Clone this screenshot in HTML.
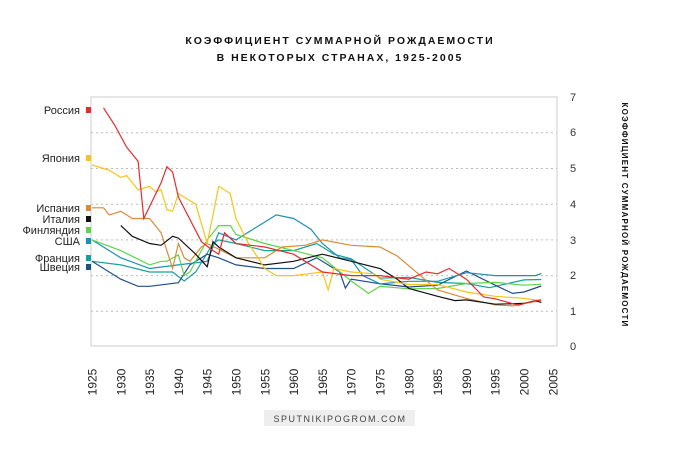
<!DOCTYPE html>
<html><head><meta charset="utf-8"><style>
body{margin:0;background:#fff;}
svg{display:block;font-family:"Liberation Sans",sans-serif;}
</style></head><body>
<svg id="s" width="680" height="450" viewBox="0 0 680 450">
<text x="340" y="44" text-anchor="middle" font-size="10.5" font-weight="bold" letter-spacing="2" fill="#111">КОЭФФИЦИЕНТ СУММАРНОЙ РОЖДАЕМОСТИ</text>
<text x="340" y="61" text-anchor="middle" font-size="10.5" font-weight="bold" letter-spacing="2" fill="#111">В НЕКОТОРЫХ СТРАНАХ, 1925-2005</text>
<g stroke="#bbb" stroke-dasharray="2,3" stroke-width="1">
<line x1="91" x2="557" y1="311.3" y2="311.3"/><line x1="91" x2="557" y1="275.6" y2="275.6"/>
<line x1="91" x2="557" y1="239.9" y2="239.9"/><line x1="91" x2="557" y1="204.2" y2="204.2"/>
<line x1="91" x2="557" y1="168.5" y2="168.5"/><line x1="91" x2="557" y1="132.8" y2="132.8"/>
</g>
<rect x="91" y="97" width="466" height="249" fill="none" stroke="#ccc"/>
<g font-size="11" fill="#333">
<text x="570" y="101">7</text><text x="570" y="136">6</text><text x="570" y="172">5</text><text x="570" y="208">4</text>
<text x="570" y="244">3</text><text x="570" y="279">2</text><text x="570" y="315">1</text><text x="570" y="350">0</text>
</g>
<text transform="translate(622,215) rotate(90)" text-anchor="middle" font-size="8" font-weight="bold" letter-spacing="1.2" fill="#111">КОЭФФИЦИЕНТ СУММАРНОЙ РОЖДАЕМОСТИ</text>
<g id="xl" font-size="12" fill="#222"></g>
<g id="lines" fill="none" stroke-width="1.2"></g>
<g font-size="11" fill="#222" text-anchor="end">
<text x="80" y="114">Россия</text><rect x="86" y="107" width="5" height="6" fill="#e52b2b"/>
<text x="80" y="162">Япония</text><rect x="86" y="155" width="5" height="6" fill="#f5c518"/>
<text x="80" y="212">Испания</text><rect x="86" y="205" width="5" height="6" fill="#d98b3a"/>
<text x="80" y="223">Италия</text><rect x="86" y="216" width="5" height="6" fill="#111"/>
<text x="80" y="234">Финляндия</text><rect x="86" y="227" width="5" height="6" fill="#5fd34a"/>
<text x="80" y="245">США</text><rect x="86" y="238" width="5" height="6" fill="#1e90b8"/>
<text x="80" y="262">Франция</text><rect x="86" y="255" width="5" height="6" fill="#16a09a"/>
<text x="80" y="271">Швеция</text><rect x="86" y="264" width="5" height="6" fill="#1e4f8a"/>
</g>
<rect x="264" y="410" width="151" height="16" fill="#eee"/>
<text x="340" y="422" text-anchor="middle" font-size="9" letter-spacing="1.5" fill="#444">SPUTNIKIPOGROM.COM</text>
</svg>
<script>
var X=function(y){return 92+(y-1925)*5.76},Y=function(v){return 347-v*35.7};
var xl=document.getElementById('xl');
for(var yr=1925;yr<=2005;yr+=5){var t=document.createElementNS('http://www.w3.org/2000/svg','text');
t.setAttribute('transform','translate('+(X(yr)+4.5)+',382) rotate(-90)');t.setAttribute('text-anchor','middle');t.textContent=yr;xl.appendChild(t);}
var D=[
['#16a09a',[1925,2.4,1930,2.3,1935,2.1,1939,2.1,1941,1.85,1943,2.1,1946,2.9,1947,3.0,1950,2.9,1955,2.7,1960,2.7,1964,2.9,1965,2.8,1967,2.6,1970,2.47,1975,1.93,1980,1.95,1985,1.81,1990,1.78,1994,1.66,2000,1.88,2003,1.89]],
['#1e4f8a',[1925,2.4,1930,1.9,1933,1.7,1935,1.7,1940,1.8,1942,2.3,1945,2.6,1947,2.5,1950,2.3,1955,2.2,1960,2.2,1964,2.5,1968,2.1,1969,1.65,1970,1.9,1975,1.77,1980,1.68,1985,1.73,1990,2.13,1995,1.73,1998,1.5,2000,1.54,2003,1.71]],
['#1e90b8',[1925,3.0,1930,2.5,1935,2.2,1940,2.3,1945,2.4,1947,3.2,1950,3.0,1955,3.5,1957,3.7,1960,3.6,1963,3.3,1965,2.9,1968,2.5,1970,2.45,1972,2.0,1975,1.77,1980,1.84,1985,1.84,1990,2.08,1995,2.0,2000,2.0,2002,2.0,2003,2.06]],
['#5fd34a',[1925,3.0,1930,2.7,1935,2.3,1937,2.4,1938,2.4,1940,2.58,1941,2.0,1942,2.1,1945,3.0,1947,3.4,1949,3.4,1950,3.15,1955,2.9,1960,2.7,1965,2.5,1970,1.85,1973,1.5,1975,1.7,1980,1.63,1985,1.64,1990,1.78,1995,1.81,2000,1.73,2003,1.76]],
['#d98b3a',[1925,3.9,1927,3.9,1928,3.7,1930,3.8,1932,3.6,1935,3.6,1937,3.2,1939,2.2,1940,2.9,1941,2.5,1942,2.4,1944,2.8,1945,2.9,1950,2.5,1955,2.5,1958,2.8,1962,2.85,1965,3.0,1970,2.85,1975,2.8,1978,2.55,1982,2.0,1985,1.6,1990,1.36,1995,1.18,1998,1.15,2000,1.22,2003,1.3]],
['#111',[1930,3.4,1932,3.1,1935,2.9,1937,2.85,1939,3.1,1940,3.05,1943,2.6,1945,2.25,1946,2.95,1947,2.8,1950,2.5,1955,2.3,1960,2.4,1965,2.6,1970,2.4,1975,2.2,1978,1.9,1980,1.64,1985,1.42,1988,1.3,1990,1.32,1995,1.2,2000,1.22,2002,1.3,2003,1.25]],
['#f5c518',[1925,5.1,1927,5.0,1928,4.95,1930,4.75,1931,4.8,1933,4.4,1935,4.5,1936,4.35,1937,4.4,1938,3.85,1939,3.8,1940,4.3,1942,4.1,1943,4.0,1945,2.9,1947,4.5,1949,4.3,1950,3.6,1952,2.95,1955,2.2,1957,2.0,1960,2.0,1965,2.1,1966,1.6,1967,2.2,1970,2.1,1974,2.05,1975,1.9,1980,1.75,1985,1.75,1990,1.54,1995,1.42,2000,1.36,2003,1.29]],
['#e52b2b',[1927,6.7,1929,6.2,1931,5.6,1933,5.2,1934,3.6,1937,4.6,1938,5.05,1939,4.9,1940,4.2,1944,2.95,1946,2.7,1947,2.6,1948,3.2,1950,2.9,1955,2.8,1960,2.6,1965,2.1,1970,2.0,1975,2.0,1980,1.9,1983,2.1,1985,2.05,1987,2.2,1990,1.9,1993,1.4,1995,1.35,1999,1.17,2002,1.3,2003,1.32]]
];
var g=document.getElementById('lines');
D.forEach(function(s){var p=[];for(var i=0;i<s[1].length;i+=2)p.push(X(s[1][i]).toFixed(1)+','+Y(s[1][i+1]).toFixed(1));
var l=document.createElementNS('http://www.w3.org/2000/svg','polyline');l.setAttribute('points',p.join(' '));l.setAttribute('stroke',s[0]);g.appendChild(l);});
</script>
</body></html>
